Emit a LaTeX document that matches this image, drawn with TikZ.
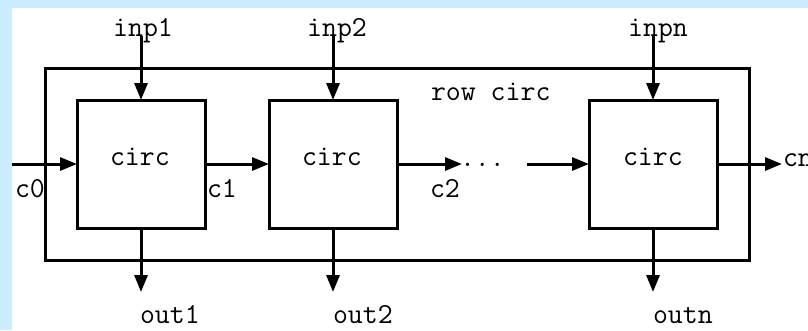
\documentclass[tikz,border=0pt]{standalone}
\usepackage{fontspec}
\usetikzlibrary{arrows.meta}
\definecolor{bgblue}{RGB}{204,236,255}
\begin{document}
\begin{tikzpicture}[x=1pt,y=-1pt,
  boxst/.style={draw, line width=3pt, minimum width=128pt, minimum height=128pt, inner sep=0pt, outer sep=0pt},
  wire/.style={line width=3pt, -{Triangle[length=17pt,width=13pt]}},
  lbl/.style={font=\ttfamily\addfontfeatures{FakeStretch=1.08}\fontsize{29}{29}\selectfont, inner sep=0pt, outer sep=0pt}]
\useasboundingbox (0,0) rectangle (808,330);
\fill[bgblue] (0,0) rectangle (808,330);
\fill[white] (12,8) rectangle (808,330);
% labels
\node[lbl, anchor=base] (inp1) at (143,36) {inp1};
\node[lbl, anchor=base] (inp2) at (337,36) {inp2};
\node[lbl, anchor=base] (inpn) at (658,36) {inpn};
\node[lbl, anchor=base west] (out1) at (140,323) {out1};
\node[lbl, anchor=base west] (out2) at (333,323) {out2};
\node[lbl, anchor=base west] (outn) at (653,323) {outn};
\node[lbl, anchor=base west] (rowlbl) at (431,100) {row circ};
\node[lbl, anchor=base west] (c0) at (15,197) {c0};
\node[lbl, anchor=base west] (c1) at (207,197) {c1};
\node[lbl, anchor=base west] (c2) at (430,197) {c2};
\node[lbl, anchor=base west] (cn) at (783,166) {cn};
\node[lbl, anchor=base west] (dots) at (460,166) {...};
\node[lbl, anchor=base west] (t1) at (110,165) {circ};
\node[lbl, anchor=base west] (t2) at (302,165) {circ};
\node[lbl, anchor=base west] (tn) at (623,165) {circ};
% boxes
\node[boxst, minimum width=704pt, minimum height=192pt] (row) at (397,164) {};
\node[boxst] (b1) at (141,164) {};
\node[boxst] (b2) at (333,164) {};
\node[boxst] (bn) at (653,164) {};
% free ends
\coordinate (cin) at (12,164);
\coordinate (c2end) at (462,164);
\coordinate (dotsend) at (527,164);
\coordinate (cnend) at (782,164);
\coordinate (o1) at (141,292);
\coordinate (o2) at (333,292);
\coordinate (on) at (653,292);
% wires
\draw[wire] (b1.north |- inp1.base) -- (b1.north);
\draw[wire] (b2.north |- inp2.base) -- (b2.north);
\draw[wire] (bn.north |- inpn.base) -- (bn.north);
\draw[wire] (b1.south) -- (o1);
\draw[wire] (b2.south) -- (o2);
\draw[wire] (bn.south) -- (on);
\draw[wire] (cin) -- (b1.west);
\draw[wire] (b1.east) -- (b2.west);
\draw[wire] (b2.east) -- (c2end);
\draw[wire] (dotsend) -- (bn.west);
\draw[wire] (bn.east) -- (cnend);
\end{tikzpicture}
\end{document}
